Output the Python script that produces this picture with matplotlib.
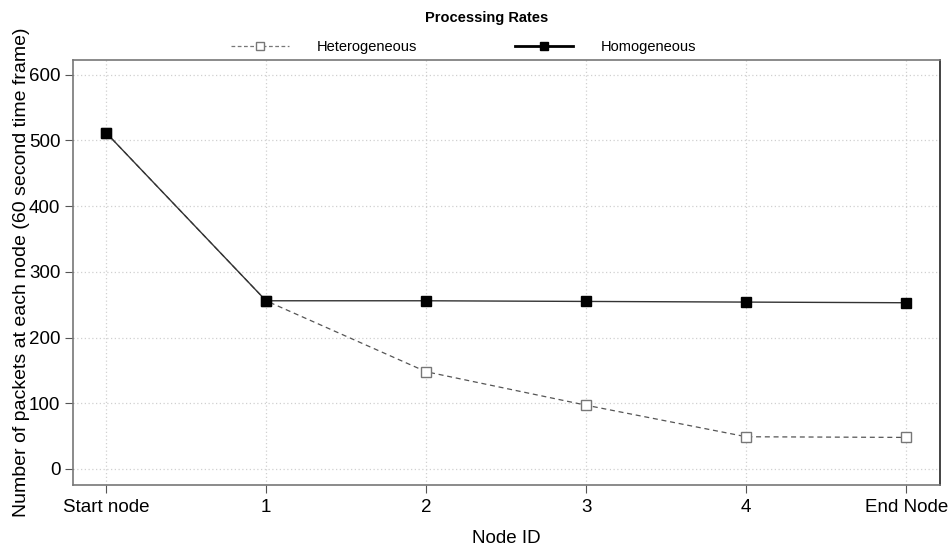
import matplotlib.pyplot as plt
from matplotlib.lines import Line2D

plt.rcParams['font.family'] = ['Liberation Sans', 'DejaVu Sans']

nodes = ["Start node", "1", "2", "3", "4", "End Node"]
heterogeneous = [512, 256, 148, 97, 49, 48]
homogeneous = [512, 256, 256, 255, 254, 253]
yticks = [0, 100, 200, 300, 400, 500, 600]

x = list(range(len(nodes)))

fig = plt.figure(figsize=(9.52, 5.48), dpi=100)
ax = fig.add_axes([0.0772, 0.115, 0.9102, 0.7755])

ax.plot(x, heterogeneous, linestyle=(0, (4, 3)), color='#555555', linewidth=0.9,
        marker='s', markersize=7, markerfacecolor='white', markeredgecolor='#777777',
        markeredgewidth=1.0, zorder=3)
ax.plot(x, homogeneous, linestyle='-', color='#333333', linewidth=1.0,
        marker='s', markersize=6.5, markerfacecolor='black', markeredgecolor='black', zorder=4)

ax.set_xlim(-0.203, 5.21)
ax.set_ylim(-24.4, 622.5)
ax.set_xticks(x)
ax.set_xticklabels(nodes, fontsize=13.5)
ax.set_yticks(yticks)
ax.tick_params(axis='y', labelsize=13.5, length=6, color='#555555', direction='out')
ax.tick_params(axis='x', length=6, color='#555555', direction='out', pad=4)
ax.grid(True, linestyle=(0, (1, 2)), color='#d0d0d0', linewidth=0.9)
ax.set_axisbelow(True)

for side in ['left', 'top', 'bottom']:
    ax.spines[side].set_color('#777777')
    ax.spines[side].set_linewidth(1.2)
ax.spines['right'].set_color('#222222')
ax.spines['right'].set_linewidth(1.2)

ax.set_xlabel("Node ID", fontsize=13.5, labelpad=10)
ax.set_ylabel("Number of packets at each node (60 second time frame)", fontsize=14)
ax.yaxis.set_label_coords(-0.050, 0.501)

fig.text(0.511, 0.968, "Processing Rates", ha='center', va='center', fontsize=10.5, fontweight='bold')

handles = [
    Line2D([], [], linestyle=(0, (3, 2)), color='#777777', linewidth=0.9, marker='s',
           markersize=5.5, markerfacecolor='white', markeredgecolor='#777777'),
    Line2D([], [], linestyle='-', color='black', linewidth=2, marker='s',
           markersize=5.5, markerfacecolor='black', markeredgecolor='black'),
]
fig.legend(handles, ["Heterogeneous", "Homogeneous"], loc='center', bbox_to_anchor=(0.487, 0.914),
           ncol=2, frameon=False, fontsize=10.5, handlelength=4.0, handletextpad=1.9,
           columnspacing=6.7)

fig.savefig("out.png", dpi=100)
